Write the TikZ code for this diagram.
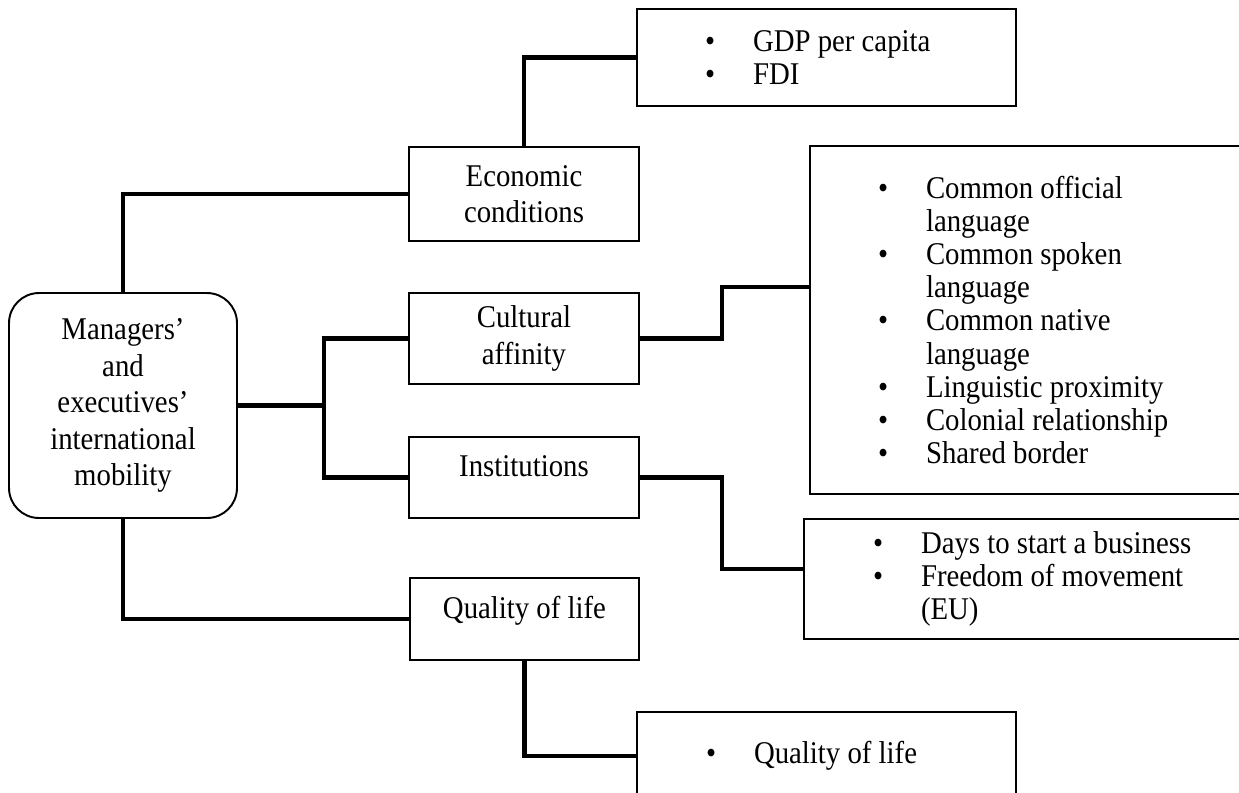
\documentclass[tikz,border=0pt]{standalone}
\usepackage{fontspec}
\setmainfont{Liberation Serif}[FakeStretch=0.91]
\usepackage{tikz}
\usetikzlibrary{calc}
\tikzset{>=latex}
\tikzset{
  box/.style = {draw, line width=1.1pt, inner sep=0pt, align=center,
    font=\fontsize{18pt}{20.8pt}\selectfont},
  listbox/.style = {draw, line width=1.1pt, inner ysep=0pt, align=flush left,
    font=\fontsize{18pt}{18.8pt}\selectfont},
  oneline/.style = {text height=12.6pt, text depth=13.3pt},
  link/.style = {line width=2.4pt}
}
\newcommand{\bul}{\makebox[0.96cm][l]{\textbullet}}
\newcommand{\ind}{\hspace*{0.96cm}}

\begin{document}
\begin{tikzpicture}[x=0.02cm, y=-0.02cm]
\useasboundingbox (0,0) rectangle (1239,792);

% left column
\node[box, rounded corners=0.6cm, minimum width=4.56cm, minimum height=4.5cm] (mob) at (123,405.5) {Managers'\\and\\executives'\\international\\mobility};
\node[box, minimum width=4.6cm, minimum height=1.88cm] (econ) at (524,194) {Economic\\conditions};
\node[box, minimum width=4.6cm, minimum height=1.82cm] (cult) at (524,338.5) {Cultural\\affinity};
\node[box, oneline, minimum width=4.6cm, minimum height=1.62cm] (inst) at (524,477.5) {Institutions};
\node[box, oneline, minimum width=4.58cm, minimum height=1.64cm] (qual) at (524.5,619) {Quality of life};

% right column
\node[listbox, inner xsep=1.36cm, text width=4.86cm, minimum height=1.94cm] (gdp) at (826.5,57.5) {\bul GDP per capita\\\bul FDI};
\node[listbox, inner xsep=1.36cm, text width=6.28cm, minimum height=6.96cm] (lang) at (1035,320) {\bul Common official\\\ind language\\\bul Common spoken\\\ind language\\\bul Common native\\\ind language\\\bul Linguistic proximity\\\bul Colonial relationship\\\bul Shared border};
\node[listbox, inner xsep=1.38cm, text width=6.76cm, minimum height=2.4cm] (biz) at (1042,579) {\bul Days to start a business\\\bul Freedom of movement\\\ind (EU)};
\node[listbox, inner xsep=1.38cm, text width=4.82cm, minimum height=1.76cm] (life) at (826.5,756) {\bul Quality of life};

% connectors
\coordinate (split) at (324,405.5);
\coordinate (cjoint) at (722,287);
\coordinate (ijoint) at (722,569);
\draw[link] (mob.north) |- (econ.west);
\draw[link] (econ.north) |- (gdp.west);
\draw[link] (mob.east) -- (split);
\draw[link] (cult.west) -| (split) |- (inst.west);
\draw[link] (cult.east) -| (cjoint) -- (cjoint -| lang.west);
\draw[link] (inst.east) -| (ijoint) -- (ijoint -| biz.west);
\draw[link] (mob.south) |- (qual.west);
\draw[link] (qual.south) |- (life.west);
\end{tikzpicture}
\end{document}
